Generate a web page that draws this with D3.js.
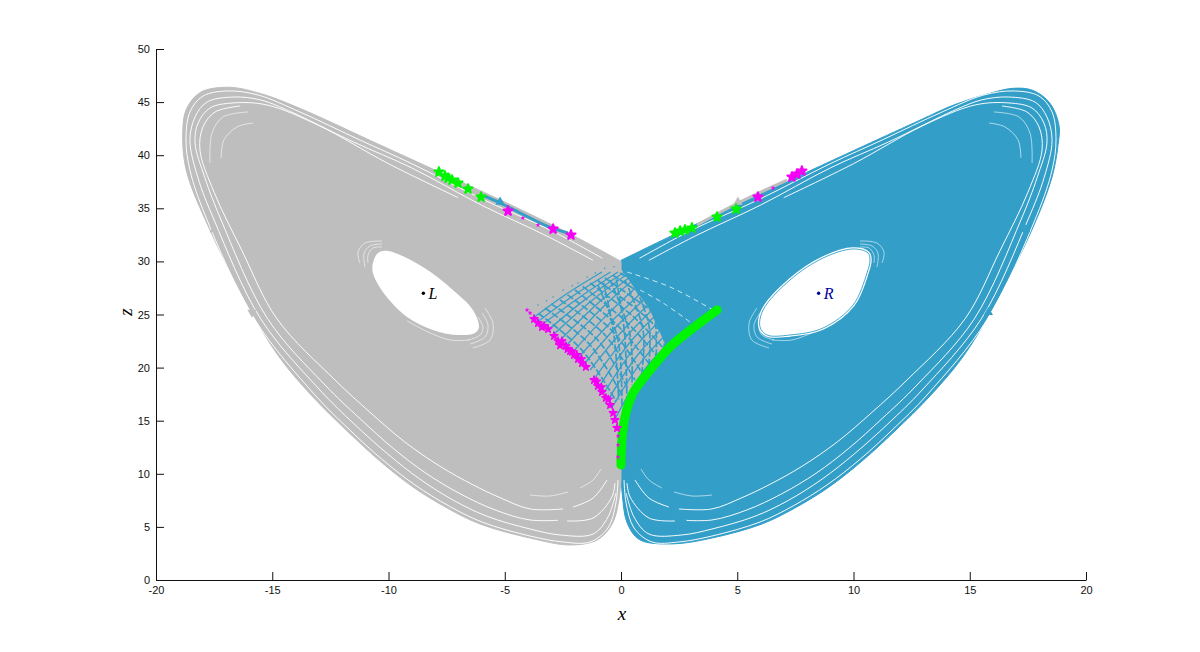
<!DOCTYPE html>
<html><head><meta charset="utf-8">
<script src="https://cdn.jsdelivr.net/npm/d3@7/dist/d3.min.js"></script>
<style>html,body{margin:0;background:#fff}svg{display:block}</style></head>
<body><svg id="c" width="1200" height="652"></svg>
<script>
const xTicks=[-20,-15,-10,-5,0,5,10,15,20];
const zTicks=[0,5,10,15,20,25,30,35,40,45,50];
const leftContour=[[0,30],[-2.2,32.6],[-5.2,35.8],[-7.8,38.4],[-10.4,41],[-13.8,44.4],[-15.5,45.8],[-16.9,46.4],[-18.1,45.9],[-18.7,44.3],[-18.85,42.1],[-18.7,38.6],[-17.68,32.96],[-15.87,25.14],[-14.67,20.9],[-13.25,17.23],[-11.78,14.03],[-10.37,11.2],[-8.95,8.76],[-7.48,6.78],[-6.06,5.27],[-3.91,3.95],[-2.19,3.3],[-1,3.8],[-0.35,5.4],[-0.05,8.2],[0,10]];
const rightContour=[[0,30.1],[2.54,32.8],[4.99,35.3],[7.7,38.1],[12.86,43.3],[14.28,44.7],[15.74,45.75],[16.86,46.3],[17.72,46.1],[18.45,44.9],[18.84,42.8],[18.8,41],[18.54,37.95],[17.72,33.2],[15.87,25.14],[14.67,20.9],[13.25,17.23],[11.78,14.03],[10.37,11.2],[8.95,8.76],[7.48,6.78],[6.06,5.27],[3.91,3.95],[2.2,3.4],[0.8,3.8],[0.26,5.4],[0.05,8.2],[0,10]];
const holeL=[[-10.67,29.85],[-10.45,30.8],[-10.02,30.98],[-8.52,29.47],[-7.23,27.3],[-6.37,25.42],[-6.11,23.82],[-6.28,23.26],[-7.05,23.07],[-8.09,23.54],[-9.2,24.76],[-10.24,27.12],[-10.67,28.9]];
const holeR=[[10.62,30.8],[9.98,31.17],[8.69,30.32],[7.27,28.25],[6.11,25.42],[5.98,23.82],[6.28,23.07],[7.27,23.07],[8.69,23.73],[9.98,25.89],[10.58,28.9],[10.71,30.13]];
const wedge=[[-0.1,29.6],[1.25,25.4],[1.9,22.2],[0.82,18.5],[0.05,14],[-0.13,12],[-0.9,18.36],[-2.19,21.37],[-4.04,25.42]];
const gapA=[[-0.8,30.3],[-3,32.9],[-6,35.9],[-9,39.2],[-11.23,41.43],[-13.81,44.07],[-15.61,45.67],[-16.9,46.05],[-17.98,45.57],[-18.54,44.07],[-18.71,41.43],[-18.54,38.6],[-17.89,34.37],[-15.74,24.5],[-13.16,17.42],[-11.7,14.2],[-10.3,11.4],[-8.86,8.95],[-7.4,6.97],[-5.98,5.46],[-3.91,4.14],[-2.49,3.58],[-1.33,3.58],[-0.56,4.9],[-0.22,7.25],[-0.13,9.42]];
const gapB=[[-1.2,30.1],[-3.2,32.4],[-6,35.3],[-9,38.8],[-11.5,41.24],[-14.37,44.26],[-15.5,45.2],[-16.65,45.48],[-17.81,45],[-18.32,43.6],[-18.54,41.4],[-18.2,37.9],[-17.5,33.9],[-15.5,24.6],[-12.95,17.89],[-11.48,14.7],[-10.05,11.9],[-8.65,9.5],[-7.2,7.5],[-5.76,6],[-3.91,4.8],[-2.62,4.24],[-1.2,4.33],[-0.56,5.93],[-0.22,8.19]];
const gapC=[[-7,36],[-10,39.2],[-13,42.8],[-15.23,44.73],[-16.69,44.92],[-17.68,44.44],[-18.19,43.03],[-18.32,41.15],[-17.9,37.9],[-17.2,33.9],[-15.2,24.6],[-12.73,18.36],[-11.23,15.2],[-9.8,12.4],[-8.39,10.05],[-6.9,8.1],[-5.42,6.6],[-3.91,5.65],[-2.49,5.65]];
const gapC2=[[-2.32,5.56],[-1.2,5.84],[-0.39,7.82],[-0.26,9.13]];
const gapD=[[-16.39,44.63],[-17.46,44.07],[-17.98,42.66],[-18.11,40.49],[-17.5,36.5],[-16.3,31],[-14.8,24.6],[-12.3,18.83],[-10.8,15.8],[-9.3,13],[-7.78,10.7],[-6.4,9],[-5.2,7.75],[-3.91,6.69],[-2.49,6.69]];
const gapD2=[[-2.06,6.87],[-1.2,7.72],[-0.6,9.42]];
const gapE=[[-16.04,44.07],[-17.12,43.6],[-17.59,42.09],[-17.68,39.27]];
const gapE2=[[-3.91,8],[-3.05,7.91],[-2.28,8.29]];
const gapF=[[-15.83,43.03],[-16.52,42.66],[-17.08,41.43],[-17.2,39.74]];
const gapF2=[[-1.76,8.66],[-1.2,9.42],[-0.86,10.45]];
const holeArc1=[[-11.23,29.85],[-11.31,30.89],[-11.01,31.73],[-10.28,31.92]];
const holeArc2=[[-11.01,29.47],[-11.05,30.79],[-10.8,31.45],[-10.28,31.64]];
const holeArc3=[[-10.88,29.85],[-10.88,30.6],[-10.67,31.26],[-10.28,31.36]];
const holeArc4=[[-5.85,25.61],[-5.51,24.2],[-5.63,22.6],[-6.37,21.85]];
const holeArc5=[[-5.98,25.14],[-5.72,24.01],[-5.85,22.88],[-6.49,22.22]];
const holeArc6=[[-6.15,24.76],[-5.94,23.82],[-6.06,23.07],[-6.58,22.6]];
const holeArc7=[[-9.2,24.4],[-8.34,23.4],[-7.35,22.6],[-6.5,22.6]];
const solidStreaks=[
[[-3.78,24.67],[-2.41,26.84],[-0.82,29]],[[-3.48,23.92],[-1.76,26.65],[-0.13,29]],
[[-2.97,22.98],[-1.33,26.18],[0.39,29]],[[-2.41,21.94],[-0.77,25.71],[0.82,28.81]],
[[-1.85,20.9],[-0.26,24.67],[1.33,27.97]],[[-1.33,19.77],[0.17,23.73],[1.76,27.12]],
[[-0.9,18.36],[0.47,22.6],[2.19,26.37]],[[-0.56,16.95],[0.82,21.47],[2.62,25.42]]];
const solidStreaks2=[
[[-3.6,24.3],[-2.1,26.7],[-0.45,29]],[[-3.2,23.4],[-1.55,26.4],[0.15,29]],[[-2.7,22.4],[-1.05,25.95],[0.6,28.9]],
[[-2.1,21.4],[-0.5,25.2],[1.08,28.4]],[[-1.6,20.3],[-0.05,24.2],[1.55,27.55]],[[-1.1,19.1],[0.32,23.15],[1.98,26.75]],
[[-0.72,17.65],[0.65,22.05],[2.4,25.9]],[[-0.4,16.2],[1,20.9],[2.85,25]],[[-0.25,15.2],[1.15,20.2],[3.1,24.4]]];
const brokenStreaks=[
[[-2.62,26.37],[-0.69,23.07],[0.6,18.83]],[[-1.98,27.31],[-0.04,23.73],[1.25,20.24]],
[[-1.33,27.97],[0.6,24.67],[1.89,21.66]],[[-0.69,28.44],[1.25,25.42],[2.54,23.07]],
[[-0.04,28.91],[1.89,26.37],[3.18,24.29]],[[-3.27,25.61],[-1.33,22.13],[0.04,17.42]],
[[-0.99,27.78],[-0.13,22.6],[0.04,16.48]],[[-0.47,28.25],[0.39,23.07],[0.47,18.36]],
[[0.17,28.25],[0.95,23.54],[0.9,19.59]],[[0.82,28.25],[1.46,24.48],[1.51,21]]];
const brokenStreaks2=[
[[-3,26],[-1,22.6],[0.3,18]],[[-2.3,26.85],[-0.35,23.4],[0.9,19.5]],[[-1.65,27.65],[0.28,24.2],[1.58,21]],
[[-1,28.2],[0.92,25.05],[2.2,22.35]],[[-0.35,28.7],[1.57,25.9],[2.85,23.7]],[[-3.55,25.1],[-1.7,21.7],[-0.2,16.8]],
[[-0.75,28],[-0.3,23],[-0.1,17]],[[-0.2,28.3],[0.15,23.3],[0.25,17.2]],[[0.5,28.2],[1.2,24],[1.2,20.3]],[[1.15,27.9],[1.8,24.9],[1.85,21.7]]];
const lightDashes=[[[0.26,29],[2.11,27.59],[3.96,25.42]],[[0.82,27.3],[1.8,26.1],[2.97,24.29]]];
const blueSpecks=[[-1.46,28.53],[-1.85,27.97],[-2.49,27.31],[-2.92,26.65],[-3.57,25.89],[-0.7,29.35],[-0.3,29.5],[-1.1,28.9],[-2.1,27.7],[-3.2,26.3]];
const blueBand=[[-5.89,36.16],[-5.2,35.5],[-4.34,34.56],[-3.18,33.33],[-2.28,32.67]];
const greyBand=[[3.27,33.43],[5.03,35.5],[7.14,37.66]];
const greenCurve=[[4.13,25.42],[3.1,23.73],[2.11,21.94],[1.25,19.77],[0.52,17.61],[0.17,15.35],[0.04,13.18],[0,10.83]];
const pinkPoints=[[-3.74,24.58],[-3.57,24.2],[-3.4,23.82],[-3.31,23.92],[-3.14,23.63],[-2.88,22.98],[-2.71,22.5],[-2.54,22.5],[-2.37,22.03],[-2.19,21.56],[-2.02,21.19],[-1.85,20.81],[-1.68,20.43],[-1.51,20.06],[-1.16,18.83],[-0.99,18.27],[-0.82,17.7],[-0.65,17.14],[-0.47,16.48],[-0.34,15.73],[-0.26,15.07],[-0.17,14.31],[-2.62,22.1],[-2.3,21.75],[-2.1,21.5],[-1.9,21.2],[-1.7,20.8],[-1.05,18.7],[-0.85,18.15],[-0.55,17]];
const pinkSmall=[[-4.04,25.42],[-3.91,25.14],[-0.13,13.56],[-0.13,12.71],[-0.13,11.58],[-4.22,34.09],[-3.57,33.43],[6.54,36.91]];
const pinkStars=[[-4.86,34.75],[-2.92,33.05],[-2.15,32.49],[5.89,36.06],[7.35,37.95],[7.57,38.23],[7.78,38.51]];
const greenStars=[[-7.83,38.42],[-7.57,38.04],[-7.44,37.85],[-7.27,37.66],[-7.01,37.38],[-6.58,36.82],[-6.02,36.06],[2.32,32.67],[2.54,32.86],[2.75,32.96],[3.05,33.15],[4.13,34.18],[4.95,34.93]];
const arrowsBlue=[[15.8,25.2,0],[2.6,5.6,90],[-5.2,35.6,120],[17.4,33,0]];
const arrowsGrey=[[-15.87,25.2,180],[-2.6,5.6,90],[5.03,35.6,-120],[-17.5,33,0]];
const fixedPoints=[["L",-8.5,27,"#000"],["R",8.5,27,"#0000a0"]];

const GREY="#bebebe",BLUE="#339fc9",PINK="#f500f5",GREEN="#00f500";
const svg=d3.select("#c");
const x=d3.scaleLinear().domain([-20,20]).range([156,1086]);
const y=d3.scaleLinear().domain([0,50]).range([580,49]);
const cr=d3.line().x(d=>x(d[0])).y(d=>y(d[1])).curve(d3.curveCatmullRom.alpha(0.5));
const crc=d3.line().x(d=>x(d[0])).y(d=>y(d[1])).curve(d3.curveCatmullRomClosed.alpha(0.5));
const lin=d3.line().x(d=>x(d[0])).y(d=>y(d[1]));
const mirror=a=>a.map(d=>[-d[0],d[1]]);

svg.append("path").attr("d",cr(rightContour)+"Z").attr("fill",BLUE).attr("stroke",BLUE).attr("stroke-width",1);
svg.append("path").attr("d",cr(leftContour)+"Z").attr("fill",GREY).attr("stroke",GREY).attr("stroke-width",1);
svg.append("path").attr("d",lin(wedge)+"Z").attr("fill",GREY);

const gapG=svg.append("g").attr("fill","none").attr("stroke","#fff");
[[[gapA,gapB,gapC,gapC2,gapD,gapD2],0.95,1],[[gapE,gapE2,gapF,gapF2],0.8,0.75],[[holeArc1,holeArc2,holeArc3,holeArc4,holeArc5,holeArc6,holeArc7],0.8,0.7]].forEach(([set,w,o])=>{
  set.forEach(a=>{
    gapG.append("path").attr("d",cr(a)).attr("stroke-width",w).attr("opacity",o);
    gapG.append("path").attr("d",cr(mirror(a))).attr("stroke-width",w).attr("opacity",o);
  });
});
svg.append("g").attr("fill","none").attr("stroke",BLUE).attr("stroke-width",1.3)
 .selectAll("path").data(solidStreaks.concat(solidStreaks2)).join("path").attr("d",cr);
svg.append("g").attr("fill","none").attr("stroke",BLUE).attr("stroke-width",1.7).attr("stroke-dasharray","7 2")
 .selectAll("path").data(brokenStreaks.concat(brokenStreaks2)).join("path").attr("d",cr);
svg.append("g").attr("fill","none").attr("stroke","#cfe9f3").attr("stroke-width",1).attr("stroke-dasharray","5 4")
 .selectAll("path").data(lightDashes).join("path").attr("d",cr);
svg.append("g").selectAll("circle").data(blueSpecks).join("circle")
 .attr("cx",d=>x(d[0])).attr("cy",d=>y(d[1])).attr("r",0.8).attr("fill",BLUE);

svg.append("path").attr("d",crc(holeL)).attr("fill","#fff");
svg.append("path").attr("d",crc(holeR)).attr("fill","#fff").attr("stroke","#fff").attr("stroke-width",3.4);
svg.append("path").attr("d",crc(holeR)).attr("fill","#fff").attr("stroke",BLUE).attr("stroke-width",0.9);

svg.append("path").attr("d",cr(blueBand)).attr("fill","none").attr("stroke",BLUE).attr("stroke-width",3);
svg.append("path").attr("d",cr(greyBand)).attr("fill","none").attr("stroke",GREY).attr("stroke-width",3);

const tri=d3.symbol().type(d3.symbolTriangle).size(38);
[[arrowsBlue,BLUE],[arrowsGrey,GREY]].forEach(([a,c])=>{
  svg.append("g").selectAll("path").data(a).join("path").attr("d",tri).attr("fill",c)
    .attr("transform",d=>`translate(${x(d[0])},${y(d[1])}) rotate(${d[2]})`);
});

const star=s=>d3.symbol().type(d3.symbolStar).size(s);
svg.append("path").attr("d",cr(greenCurve)).attr("fill","none").attr("stroke",GREEN).attr("stroke-width",9).attr("stroke-linecap","round");
const mark=(arr,c,s,w)=>svg.append("g").selectAll("path").data(arr).join("path")
  .attr("d",star(s)).attr("fill",c).attr("stroke",c).attr("stroke-width",w).attr("stroke-linejoin","round").attr("transform",d=>`translate(${x(d[0])},${y(d[1])})`);
mark(pinkPoints,PINK,20,1.2);
mark(pinkSmall,PINK,8,0);
mark(pinkStars,PINK,26,2);
mark(greenStars,GREEN,26,2);

const ax=svg.append("g").attr("transform",`translate(0,${y(0)})`).call(d3.axisBottom(x).tickValues(xTicks).tickFormat(String).tickSizeInner(-8).tickSizeOuter(0).tickPadding(6));
const ay=svg.append("g").attr("transform",`translate(${x(-20)},0)`).call(d3.axisLeft(y).tickValues(zTicks).tickFormat(String).tickSizeInner(-8).tickSizeOuter(0).tickPadding(6));
[ax,ay].forEach(g=>{g.selectAll("text").attr("font-family","'Liberation Sans',Arial,sans-serif").attr("font-size",11).attr("fill","#111");
  g.selectAll("line,path").attr("stroke","#111").attr("stroke-width",1);});

const serif="'Liberation Serif','Times New Roman',serif";
svg.append("text").attr("x",622).attr("y",620).attr("text-anchor","middle").attr("font-family",serif).attr("font-style","italic").attr("font-size",19).text("x");
svg.append("text").attr("transform","translate(132,312) rotate(-90)").attr("text-anchor","middle").attr("font-family",serif).attr("font-style","italic").attr("font-size",19).text("z");
const fp=svg.append("g").selectAll("g").data(fixedPoints).join("g").attr("transform",d=>`translate(${x(d[1])},${y(d[2])})`);
fp.append("circle").attr("r",1.7).attr("fill",d=>d[3]);
fp.append("text").attr("x",5).attr("y",6).attr("font-family",serif).attr("font-style","italic").attr("font-size",16).attr("fill",d=>d[3]).text(d=>d[0]);
</script></body></html>
